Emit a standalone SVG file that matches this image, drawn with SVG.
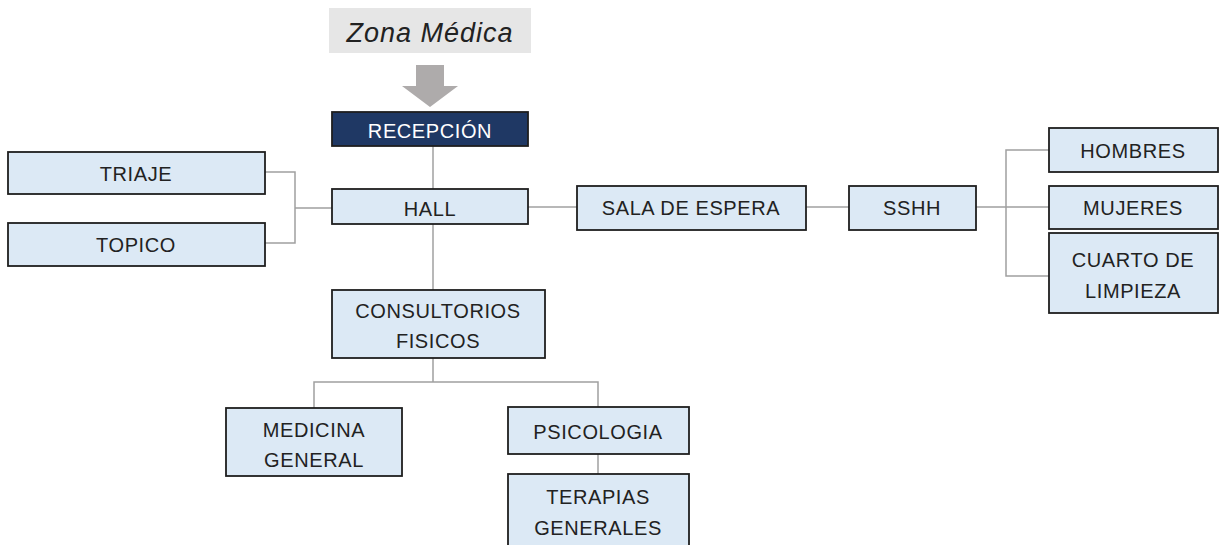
<svg xmlns="http://www.w3.org/2000/svg" width="1220" height="545" viewBox="0 0 1220 545">
<style>
.box{fill:#dce9f5;stroke:#1e1e1e;stroke-width:1.8}
.dark{fill:#1f3864;stroke:#1e1e1e;stroke-width:1.8}
.t{font-family:"Liberation Sans",Arial,sans-serif;font-size:20px;fill:#222;text-anchor:middle;letter-spacing:0.6px}
.tw{fill:#ffffff}
.c{fill:none;stroke:#a0a0a0;stroke-width:1.5}
</style>
<rect width="1220" height="545" fill="#ffffff"/>
<g id="connectors">
<path class="c" d="M433 146V189"/>
<path class="c" d="M433 224V290"/>
<path class="c" d="M265 172H295V243H265M295 208H332"/>
<path class="c" d="M528 207H577"/>
<path class="c" d="M806 207H849"/>
<path class="c" d="M976 207H1049M1049 150H1006V276H1049"/>
<path class="c" d="M433 358V382M314 408V382H598V407"/>
<path class="c" d="M598 454V474"/>
</g>
<g id="zona">
<rect x="329" y="8" width="202" height="45" fill="#e6e6e6"/>
<text x="430" y="42" font-family="Liberation Sans, Arial, sans-serif" font-size="27" font-style="italic" fill="#222" text-anchor="middle" letter-spacing="1">Zona Médica</text>
</g>
<g id="arrow">
<polygon points="416,65 444,65 444,86 458,86 430,107 402,86 416,86" fill="#aeabab"/>
</g>
<g id="recepcion">
<rect class="dark" x="332" y="112" width="196" height="34"/>
<text class="t tw" x="430" y="138">RECEPCIÓN</text>
</g>
<g id="hall">
<rect class="box" x="332" y="189" width="196" height="35"/>
<text class="t" x="430" y="216">HALL</text>
</g>
<g id="triaje">
<rect class="box" x="8" y="152" width="257" height="42"/>
<text class="t" x="136" y="181">TRIAJE</text>
</g>
<g id="topico">
<rect class="box" x="8" y="223" width="257" height="43"/>
<text class="t" x="136" y="252">TOPICO</text>
</g>
<g id="sala">
<rect class="box" x="577" y="186" width="229" height="44"/>
<text class="t" x="691" y="215">SALA DE ESPERA</text>
</g>
<g id="sshh">
<rect class="box" x="849" y="186" width="127" height="44"/>
<text class="t" x="912" y="215">SSHH</text>
</g>
<g id="hombres">
<rect class="box" x="1049" y="128" width="169" height="44"/>
<text class="t" x="1133" y="158">HOMBRES</text>
</g>
<g id="mujeres">
<rect class="box" x="1049" y="186" width="169" height="43"/>
<text class="t" x="1133" y="215">MUJERES</text>
</g>
<g id="cuarto">
<rect class="box" x="1049" y="233" width="169" height="80"/>
<text class="t" x="1133" y="267">CUARTO DE</text>
<text class="t" x="1133" y="298">LIMPIEZA</text>
</g>
<g id="consultorios">
<rect class="box" x="332" y="290" width="213" height="68"/>
<text class="t" x="438" y="318">CONSULTORIOS</text>
<text class="t" x="438" y="348">FISICOS</text>
</g>
<g id="medicina">
<rect class="box" x="226" y="408" width="176" height="68"/>
<text class="t" x="314" y="437">MEDICINA</text>
<text class="t" x="314" y="467">GENERAL</text>
</g>
<g id="psicologia">
<rect class="box" x="508" y="407" width="181" height="47"/>
<text class="t" x="598" y="439">PSICOLOGIA</text>
</g>
<g id="terapias">
<rect class="box" x="508" y="474" width="181" height="80"/>
<text class="t" x="598" y="504">TERAPIAS</text>
<text class="t" x="598" y="535">GENERALES</text>
</g>
</svg>
